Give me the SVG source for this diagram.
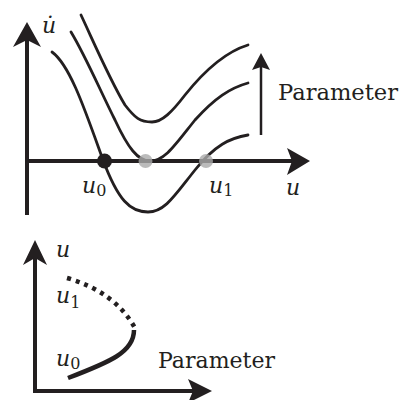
<svg xmlns="http://www.w3.org/2000/svg" width="402" height="400" viewBox="0 0 402 400">
<style>
.axis{stroke:#231f20;stroke-width:4;fill:none}
.curve{stroke:#231f20;stroke-width:2.8;fill:none;stroke-linecap:round}
.head{fill:#231f20}
.lab{font-family:"DejaVu Serif",serif;fill:#231f20}
.it{font-style:italic;font-size:22px}
.sub{font-size:16px}
.par{font-size:22px}
</style>
<rect width="402" height="400" fill="#fff"/>
<g id="top-axes">
<line class="axis" x1="27" y1="215" x2="27" y2="38"/>
<path class="head" d="M27,22 L41,47 L27,40 L13,47 Z"/>
<line class="axis" x1="27" y1="161" x2="295" y2="161"/>
<path class="head" d="M310,161 L287,175 L292,161 L287,148 Z"/>
</g>
<g id="connectors">
<path class="curve" d="M52,52 C70,65 85,110 103,160 C118,200 130,212 148,212 C165,212 175,195 195,170 C215,145 230,138 248,135"/>
<path class="curve" d="M71,32 C85,55 100,90 115,120 C128,148 138,161 150,161 C165,161 175,145 195,120 C215,98 230,88 248,83"/>
<path class="curve" d="M81,15 C95,45 110,80 125,105 C135,118 140,122 152,122 C162,122 172,112 185,95 C205,70 225,52 248,45"/>
<line x1="261" y1="135" x2="261" y2="66" stroke="#231f20" stroke-width="2.5"/>
<path class="head" d="M261,53 L270,70 L261,67 L252,70 Z"/>
</g>
<g id="points">
<circle cx="104.5" cy="161" r="7.5" fill="#231f20"/>
<circle cx="145.5" cy="161" r="7" fill="#aaaaaa" fill-opacity="0.8"/>
<circle cx="206" cy="161" r="7" fill="#aaaaaa" fill-opacity="0.8"/>
</g>
<g id="top-labels">
<text class="lab it" x="42" y="33">u̇</text>
<text class="lab" x="82" y="193"><tspan class="it">u</tspan><tspan class="sub" dy="3">0</tspan></text>
<text class="lab" x="209" y="193"><tspan class="it">u</tspan><tspan class="sub" dy="3">1</tspan></text>
<text class="lab it" x="286" y="195">u</text>
<text class="lab par" x="278" y="100" textLength="120" lengthAdjust="spacingAndGlyphs">Parameter</text>
</g>
<g id="bottom-axes">
<line class="axis" x1="35" y1="393" x2="35" y2="255"/>
<path class="head" d="M35,240 L47,265 L35,258 L23,265 Z"/>
<line class="axis" x1="33" y1="391" x2="198" y2="391"/>
<path class="head" d="M212,391 L188,403 L193,391 L188,379 Z"/>
</g>
<g id="branches">
<path d="M67,278 Q115,292 135,328" stroke="#231f20" stroke-width="4.5" fill="none" stroke-dasharray="4 5"/>
<path d="M134,330 C134,352 110,362 68,378" stroke="#231f20" stroke-width="4.5" fill="none"/>
</g>
<g id="bottom-labels">
<text class="lab it" x="56" y="257">u</text>
<text class="lab" x="56" y="303"><tspan class="it">u</tspan><tspan class="sub" dy="5">1</tspan></text>
<text class="lab" x="56" y="366"><tspan class="it">u</tspan><tspan class="sub" dy="3">0</tspan></text>
<text class="lab par" x="158" y="368" textLength="117" lengthAdjust="spacingAndGlyphs">Parameter</text>
</g>
</svg>
